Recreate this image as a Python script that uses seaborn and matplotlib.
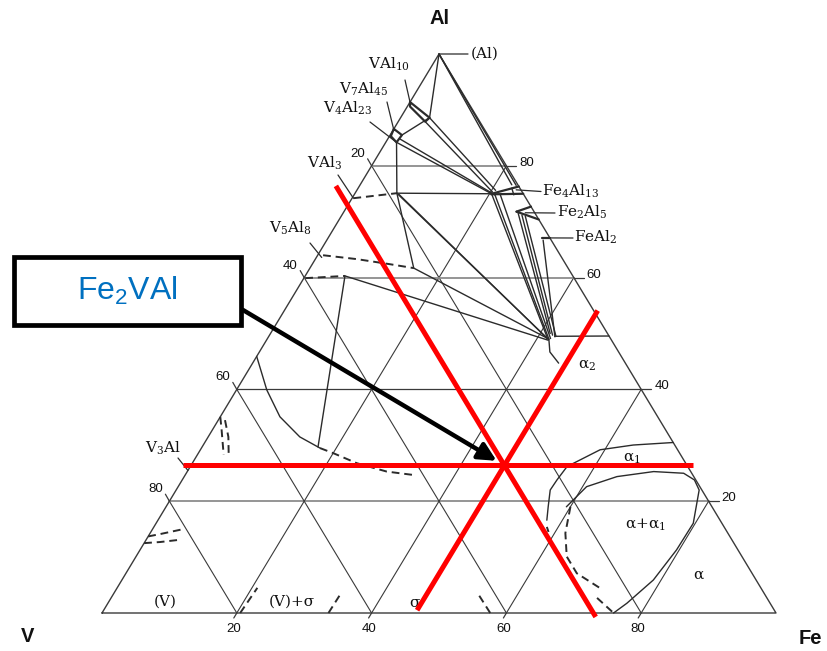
import matplotlib
matplotlib.use("Agg")
import matplotlib.pyplot as plt
import numpy as np
import seaborn as sns
from matplotlib.patches import Rectangle

sns.set_theme(style="white")
plt.rcParams["font.family"] = ["DejaVu Serif"]
plt.rcParams["mathtext.fontset"] = "custom"
plt.rcParams["mathtext.rm"] = "DejaVu Serif"
plt.rcParams["mathtext.it"] = "DejaVu Serif:italic"
plt.rcParams["mathtext.bf"] = "DejaVu Serif:bold"
plt.rcParams["mathtext.sf"] = "Liberation Sans"

# ---------------- composition grid (at.%) ----------------
grid_levels = [20, 40, 60, 80]
fe_tick_labels = ["20", "40", "60", "80"]
v_tick_labels = ["20", "40", "60", "80"]
al_tick_labels = ["20", "40", "60", "80"]

# ---------------- phase boundaries, (Fe at.%, Al at.%) ----------------
apex_to_val10 = [(0, 100), (4.3, 88.6)]
apex_to_fe4al13_a = [(0, 100), (22.5, 76.6)]
apex_to_fe4al13_b = [(0, 100), (23.2, 76.5)]
val10_band = [(0, 91.4), (4.3, 88.6), (4.0, 87.9), (0.4, 90.6), (0, 91.4)]
v7al45_cell = [(0, 86.6), (1.75, 85.5), (1.6, 84.2), (0.2, 85.3), (0, 86.6)]
v7al45_to_val10 = [(1.75, 85.5), (4.3, 88.6)]
v4al23_to_val3 = [(1.6, 84.2), (6.2, 75.1)]
v4al23_tie_a = [(1.6, 84.2), (20.3, 75.0)]
v4al23_tie_b = [(1.8, 84.8), (20.9, 74.8)]
val10_tie_a = [(4.0, 87.9), (20.3, 75.3)]
val10_tie_b = [(4.3, 88.6), (20.6, 75.6)]
val3_dashed = [(0.2, 74.2), (6.2, 75.1)]
val3_tie = [(6.2, 75.1), (20.3, 75.0)]
fe4al13_top = [(20.3, 75.0), (23.7, 76.3)]
fe4al13_bottom = [(20.3, 74.9), (25.0, 75.0)]
fe4al13_cross = [(22.8, 76.0), (23.7, 74.8)]
fe2al5_top = [(25.6, 71.8), (27.3, 72.7)]
fe2al5_bottom = [(25.6, 71.8), (29.6, 70.4)]
feal2_mark = [(31.8, 67.1), (32.9, 67.1)]
fan_ties = [
    [(20.3, 75.0), (41.4, 49.3)],
    [(20.9, 74.8), (41.8, 49.0)],
    [(21.7, 74.8), (42.0, 49.1)],
    [(26.0, 71.5), (41.5, 50.0)],
    [(26.7, 71.2), (42.0, 49.7)],
    [(27.3, 71.0), (42.6, 49.5)],
    [(32.1, 66.7), (42.5, 49.4)],
]
alpha2_top = [(42.4, 49.5), (50.45, 49.55)]
alpha2_edge = [(41.8, 49.0), (43.1, 46.7), (45.4, 44.7)]
val3_ties = [
    [(6.2, 75.1), (15.4, 61.7)],
    [(6.2, 75.1), (41.4, 49.2)],
    [(6.6, 74.9), (41.8, 48.9)],
]
v5al8_tie = [(15.4, 61.7), (41.8, 49.0)]
v5al8_low_tie = [(5.9, 60.3), (41.8, 48.8)]
v5al8_drop = [(5.9, 60.3), (17.2, 29.7)]
v5al8_upper = [(0.8, 64.0), (6.2, 63.3), (11.5, 62.4), (15.4, 61.7)]
v5al8_lower = [(0.2, 59.9), (5.9, 60.3)]
v_solvus = [(0, 45.9), (4.5, 39.9), (8.85, 35.1), (13.6, 31.5), (17.6, 29.5)]
v_solvus_dashed = [(17.6, 29.5), (20.0, 28.6), (24.4, 26.8), (29.6, 25.3), (33.8, 24.7)]
v3al_a = [(0, 35.1), (1.4, 32.7), (3.9, 28.3)]
v3al_b = [(1.0, 34.5), (3.0, 31.5), (4.8, 28.0)]
v_corner_a = [(0, 13.7), (1.5, 14.1), (4.2, 14.9)]
v_corner_b = [(0, 12.5), (2.3, 12.7), (5.0, 13.1)]
sigma_left = [(20.5, 0), (20.8, 4.5)]
sigma_mid = [(33.6, 0), (33.7, 3.8)]
sigma_right = [(57.6, 0), (53.7, 3.8)]
alpha1_upper = [(69.5, 30.5), (63.8, 30.05), (59.3, 29.2), (55.9, 26.2), (55.6, 23.8),
                (55.5, 22.0), (56.7, 19.0), (57.7, 16.6)]
alpha1_tail = [(58.3, 15.4), (59.0, 14.5)]
alpha_alpha1 = [(59.4, 19.0), (60.6, 22.6), (64.2, 24.4), (69.2, 25.3), (73.8, 25.0),
                (76.0, 23.8), (77.6, 22.0), (79.7, 16.05), (79.6, 11.3), (78.85, 5.9),
                (77.0, 1.74), (75.9, 0)]
alpha_alpha1_dashed = [(60.0, 19.0), (61.6, 14.3), (63.9, 10.1), (66.9, 7.1), (72.3, 4.1)]
alpha_alpha1_dashed_low = [(72.1, 2.7), (75.9, 0)]

# Fe2VAl composition and the three iso-concentration guides through it
fe2val_fe, fe2val_al = 46.5, 26.4
guide_al_fe_range = [-1.2, 74.5]      # Al = const, Fe from .. to
guide_v_al_range = [76.4, -0.7]       # V = const, Al from .. to
guide_fe_al_range = [0.5, 54.1]       # Fe = const, Al from .. to

LINE = "#2b2b2b"
GRID_DARK = "#3a3a3a"
GRID_LIGHT = "#8c8c8c"

PX_X, PX_Y = 674.0, 559.0


def px(x, y):
    """Figure pixel position -> axes data position."""
    return (x - 102) / PX_X, (613 - y) / PX_Y


def to_xy(points):
    pts = np.asarray(points, dtype=float)
    fe, al = pts[:, 0], pts[:, 1]
    return fe / 100 + al / 200, al / 100


def draw(ax, points, color=LINE, lw=1.0, ls="-", z=2, cap="round"):
    x, y = to_xy(points)
    sns.lineplot(x=x, y=y, sort=False, estimator=None, ax=ax, color=color,
                 linewidth=lw, linestyle=ls, zorder=z, legend=False,
                 solid_capstyle=cap)


fig = plt.figure(figsize=(8.27, 6.51), dpi=100)
ax = fig.add_axes([0, 0, 1, 1])
ax.set_xlim(-102 / PX_X, 725 / PX_X)
ax.set_ylim(-38 / PX_Y, 613 / PX_Y)
ax.axis("off")

# triangle frame
draw(ax, [(0, 0), (100, 0), (0, 100), (0, 0)], color=GRID_DARK, lw=1.0)

# grid
for k in grid_levels:
    draw(ax, [(0, k), (100 - k, k)], color=GRID_DARK if k == 40 else GRID_LIGHT,
         lw=0.9 if k == 40 else 1.3, z=1)
    draw(ax, [(k, 0), (k, 100 - k)], color=GRID_DARK, lw=0.8, z=1)
    draw(ax, [(100 - k, 0), (0, 100 - k)], color=GRID_DARK, lw=0.8, z=1)

# tick marks and labels
tick_font = dict(family="Liberation Sans", fontsize=9.5, color="#111111")
for k, lab in zip(grid_levels, al_tick_labels):
    x0, y0 = to_xy([(100 - k, k)])
    ax.plot([x0[0], x0[0] + 10 / PX_X], [y0[0], y0[0]], color=GRID_DARK, lw=0.9)
    ax.text(x0[0] + 13 / PX_X, y0[0] + 3 / PX_Y, lab, ha="left", va="center", **tick_font)
for k, lab in zip(grid_levels[::-1], v_tick_labels):
    x0, y0 = to_xy([(0, k)])
    ax.plot([x0[0], x0[0] - 4 / PX_X], [y0[0], y0[0] + 7 / PX_Y], color=GRID_DARK, lw=0.9)
    ax.text(x0[0] - 14 / PX_X, y0[0] + 12 / PX_Y, lab, ha="center", va="center", **tick_font)
for k, lab in zip(grid_levels, fe_tick_labels):
    x0, y0 = to_xy([(k, 0)])
    ax.plot([x0[0], x0[0] - 3 / PX_X], [y0[0], y0[0] - 5 / PX_Y], color=GRID_DARK, lw=0.9)
    ax.text(x0[0] - 3 / PX_X, y0[0] - 16 / PX_Y, lab, ha="center", va="center", **tick_font)

# phase boundaries
thin = [apex_to_val10, apex_to_fe4al13_a, apex_to_fe4al13_b, v7al45_to_val10,
        v4al23_to_val3, v4al23_tie_a, v4al23_tie_b, val10_tie_a, val10_tie_b,
        val3_tie, fe4al13_cross, alpha2_top, alpha2_edge, v5al8_tie,
        v5al8_low_tie, v5al8_drop, v_solvus, alpha1_upper, alpha_alpha1]
thin += fan_ties + val3_ties
for seg in thin:
    draw(ax, seg, lw=1.0)
for seg in [val10_band, v7al45_cell, fe4al13_top, fe4al13_bottom, fe2al5_top,
            fe2al5_bottom, feal2_mark]:
    draw(ax, seg, lw=1.6)
dash = (0, (4, 2.5))
for seg in [val3_dashed, v5al8_upper, v5al8_lower, v_solvus_dashed, v3al_a, v3al_b,
            v_corner_a, v_corner_b, sigma_left, sigma_mid, sigma_right, alpha1_tail,
            alpha_alpha1_dashed, alpha_alpha1_dashed_low]:
    draw(ax, seg, lw=1.4, ls=dash, cap="butt")

# phase labels
lab_font = dict(fontsize=11, color="#111111")


def leader(start_px, point):
    x, y = to_xy([point])
    ax.annotate("", xy=(x[0], y[0]), xytext=px(*start_px),
                arrowprops=dict(arrowstyle="-", lw=0.9, color=LINE,
                                shrinkA=0, shrinkB=0))


ax.text(*px(471, 54), "(Al)", ha="left", va="center", **lab_font)
leader((468, 54), (0, 100))
ax.text(*px(410, 69), r"VAl$_{10}$", ha="right", va="baseline", **lab_font)
leader((405, 80), (0, 91.4))
ax.text(*px(388, 94), r"V$_7$Al$_{45}$", ha="right", va="baseline", **lab_font)
leader((387, 102), (0.1, 86.4))
ax.text(*px(372, 113), r"V$_4$Al$_{23}$", ha="right", va="baseline", **lab_font)
leader((370, 122), (1.6, 84.2))
ax.text(*px(342, 168), r"VAl$_3$", ha="right", va="baseline", **lab_font)
leader((338, 175), (0.2, 74.2))
ax.text(*px(312, 233), r"V$_5$Al$_8$", ha="right", va="baseline", **lab_font)
leader((310, 243), (0.8, 63.6))
ax.text(*px(181, 453), r"V$_3$Al", ha="right", va="baseline", **lab_font)
leader((178, 458), (0, 25.5))
ax.text(*px(542, 196), r"Fe$_4$Al$_{13}$", ha="left", va="baseline", **lab_font)
leader((541, 191.5), (23.6, 75.7))
ax.text(*px(557, 217), r"Fe$_2$Al$_5$", ha="left", va="baseline", **lab_font)
leader((555, 213), (27.0, 71.6))
ax.text(*px(574, 242), r"FeAl$_2$", ha="left", va="baseline", **lab_font)
leader((573, 238), (32.2, 67.1))

ax.text(*px(165, 602), "(V)", ha="center", va="center", **lab_font)
ax.text(*px(292, 602), "(V)+σ", ha="center", va="center", **lab_font)
ax.text(*px(414, 603), "σ", ha="center", va="center", **lab_font)
ax.text(*px(587, 366), r"α$_2$", ha="center", va="center", **lab_font)
ax.text(*px(632, 459), r"α$_1$", ha="center", va="center", **lab_font)
ax.text(*px(645, 525), r"α+α$_1$", ha="center", va="center", **lab_font)
ax.text(*px(698, 575), "α", ha="center", va="center", **lab_font)

# corner labels
corner_font = dict(family="Liberation Sans", fontsize=14.5, fontweight="bold", color="#111111")
ax.text(*px(439, 18), "Al", ha="center", va="center", **corner_font)
ax.text(*px(28, 637), "V", ha="center", va="center", **corner_font)
ax.text(*px(810, 638), "Fe", ha="center", va="center", **corner_font)

# Fe2VAl guide lines
v_const = 100 - fe2val_fe - fe2val_al
red = dict(color="#ff0000", lw=3.6, z=4, cap="butt")
draw(ax, [(guide_al_fe_range[0], fe2val_al), (guide_al_fe_range[1], fe2val_al)], **red)
draw(ax, [(100 - v_const - a, a) for a in guide_v_al_range], **red)
draw(ax, [(fe2val_fe, a) for a in guide_fe_al_range], **red)

# call-out box and arrow
bx0, by0 = px(14.3, 325)
bx1, by1 = px(241, 257.3)
ax.add_patch(Rectangle((bx0, by0), bx1 - bx0, by1 - by0, facecolor="white",
                       edgecolor="black", lw=3.4, zorder=6))
ax.text(*px(127.5, 291), r"Fe$_\mathsf{2}$VAl", ha="center", va="center",
        family="Liberation Sans", fontsize=23, color="#0070C0", zorder=7)
tx, ty = to_xy([(fe2val_fe, fe2val_al)])
ax.annotate("", xy=(tx[0], ty[0]), xytext=px(243, 310),
            arrowprops=dict(arrowstyle="-|>,head_length=0.9,head_width=0.45",
                            color="black", lw=3.2, shrinkA=0, shrinkB=6.5),
            zorder=5)

fig.savefig("out.png", dpi=100)
